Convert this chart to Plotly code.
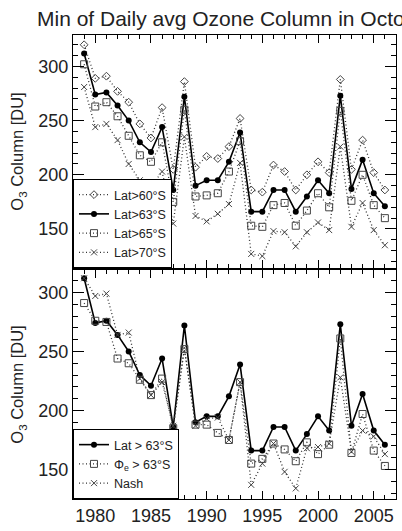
import plotly.graph_objects as go

years = list(range(1979, 2007))

lat60 = [320, 289, 291, 277, 267, 247, 234, 262, 205, 286, 207, 217, 215, 226,
         252, 186, 184, 209, 203, 186, 200, 212, 202, 288, 205, 232, 202, 186]
lat63 = [312, 274, 276, 264, 250, 230, 221, 244, 186, 272, 190, 195, 195, 212,
         239, 166, 166, 186, 186, 166, 180, 195, 183, 273, 187, 214, 183, 171]
lat65 = [302, 263, 267, 254, 236, 218, 212, 230, 175, 260, 180, 181, 183, 203,
         231, 153, 152, 172, 174, 153, 167, 183, 170, 259, 176, 200, 172, 160]
lat70 = [281, 244, 247, 232, 210, 195, 189, 203, 155, 235, 162, 157, 164, 173,
         211, 127, 125, 148, 147, 134, 147, 156, 149, 226, 152, 174, 149, 135]
phi_e = [291, 276, 275, 244, 240, 226, 213, 227, 185, 252, 188, 188, 181, 175,
         224, 155, 159, 172, 167, 157, 173, 163, 171, 261, 164, 197, 166, 153]
nash = [312, 297, 299, 264, 266, 227, 213, 224, 187, 253, 187, 193, 194, 175,
        224, 137, 155, 172, 148, 134, 168, 169, 172, 228, 165, 183, 178, 163]

FONT = "Liberation Sans, Arial, sans-serif"
W, H = 402, 531
L, R, T, B = 73, 6, 35, 32
ph = H - T - B
top_dom = [(H - 268 - B) / ph, 1.0]
bot_dom = [0.0, (H - 270 - B) / ph]

fig = go.Figure()

dot = dict(color="#333", width=1.3, dash="1px,2.5px")
solid = dict(color="black", width=1.6)

def add(y, name, line, marker, xa, ya, legend):
    fig.add_trace(go.Scatter(x=years, y=y, name=name, mode="lines+markers",
                             line=line, marker=marker, xaxis=xa, yaxis=ya,
                             legend=legend))

add(lat60, "Lat>60°S", dot,
    dict(symbol="diamond-open", size=6, color="#444", line=dict(width=1)), "x", "y", "legend")
add(lat63, "Lat>63°S", solid,
    dict(symbol="circle", size=6, color="black"), "x", "y", "legend")
add(lat65, "Lat>65°S", dot,
    dict(symbol="square-open", size=7, color="#444", line=dict(width=1)), "x", "y", "legend")
add(lat70, "Lat>70°S", dot,
    dict(symbol="x-thin-open", size=6, color="#444", line=dict(width=1)), "x", "y", "legend")

add(lat63, "Lat > 63°S", solid,
    dict(symbol="circle", size=6, color="black"), "x2", "y2", "legend2")
add(phi_e, "Φ<sub>e</sub> > 63°S", dot,
    dict(symbol="square-open", size=7, color="#444", line=dict(width=1)), "x2", "y2", "legend2")
add(nash, "Nash", dot,
    dict(symbol="x-thin-open", size=6, color="#444", line=dict(width=1)), "x2", "y2", "legend2")

xcommon = dict(range=[1978, 2007], dtick=5, ticks="inside", ticklen=8,
               tickcolor="black", showline=True, linecolor="black", linewidth=1,
               mirror="ticks", showgrid=False, zeroline=False,
               minor=dict(dtick=1, ticks="inside", ticklen=4, tickcolor="black",
                          showgrid=False),
               tickfont=dict(size=18, color="#222", family=FONT))
ycommon = dict(dtick=50, ticks="inside", ticklen=11, tickcolor="black",
               showline=True, linecolor="black", linewidth=1, mirror="ticks",
               showgrid=False, zeroline=False,
               minor=dict(dtick=10, ticks="inside", ticklen=5, tickcolor="black",
                          showgrid=False),
               tickfont=dict(size=18, color="#222", family=FONT),
               title=dict(text="O<sub>3</sub> Column [DU]", standoff=10,
                          font=dict(size=16.5, color="#222", family=FONT)))

legend_common = dict(x=0, xanchor="left", yanchor="bottom",
                     bordercolor="black", borderwidth=1, bgcolor="white",
                     font=dict(size=12.5, family=FONT, color="#222"),
                     itemwidth=30, tracegroupgap=0)

fig.update_layout(
    width=W, height=H,
    margin=dict(l=L, r=R, t=T, b=B),
    paper_bgcolor="white", plot_bgcolor="white",
    font=dict(family=FONT, color="#222"),
    title=dict(text="Min of Daily avg Ozone Column in October", x=37 / W,
               xref="container", xanchor="left", y=1 - 19 / H, yref="container",
               yanchor="middle", font=dict(size=21, color="#222", family=FONT)),
    xaxis=dict(**xcommon, domain=[0, 1], anchor="y", showticklabels=False),
    yaxis=dict(**ycommon, domain=top_dom, range=[114, 329], anchor="x"),
    xaxis2=dict(**xcommon, domain=[0, 1], anchor="y2"),
    yaxis2=dict(**ycommon, domain=bot_dom, range=[125, 319], anchor="x2"),
    legend=dict(**legend_common, y=top_dom[0]),
    legend2=dict(**legend_common, y=bot_dom[0]),
)

fig.write_html("out.html")
